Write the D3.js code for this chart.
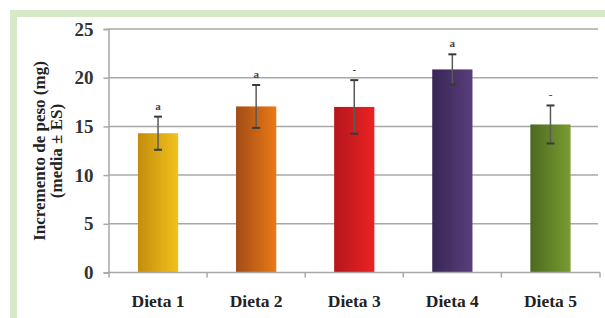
<html lang="es">
<head>
<meta charset="UTF-8">
<script src="https://d3js.org/d3.v7.min.js"></script>
<style>
  body { margin: 0; background: #fff; }
  svg text { font-family: "Liberation Serif", "Times New Roman", "DejaVu Serif", serif !important; font-weight: bold; }
</style>
</head>
<body>
<div id="chart"></div>
<script>
    // data
    const categories = ["Dieta 1", "Dieta 2", "Dieta 3", "Dieta 4", "Dieta 5"];
    const means = [14.3, 17.05, 17.0, 20.85, 15.2];
    const errors = [1.7, 2.2, 2.75, 1.55, 1.95];
    const letters = ["a", "a", "-", "a", "-"];
    const yTicks = [0, 5, 10, 15, 20, 25];
    const colors = [
        ["#c38d0c", "#f2c21c"],
        ["#a24c16", "#ea7a16"],
        ["#b5161c", "#ec2222"],
        ["#372656", "#5a3e7c"],
        ["#4b6a1e", "#7b9b32"]
    ];

    const W = 605, H = 318;
    const svg = d3.select("#chart").append("svg").attr("width", W).attr("height", H);

    // light green frame
    svg.append("rect").attr("x", 13.5).attr("y", 13.5).attr("width", 620).attr("height", 308)
        .attr("fill", "none").attr("stroke", "#d6e8c7").attr("stroke-width", 7);

    const x = d3.scaleBand().domain(categories).range([108.5, 600]).paddingInner(0.59).paddingOuter(0.3);
    const y = d3.scaleLinear().domain([0, 25]).range([272.5, 29]);

    const defs = svg.append("defs");
    colors.forEach((c, i) => {
        const g = defs.append("linearGradient").attr("id", "g" + i).attr("x1", "0%").attr("x2", "100%");
        g.append("stop").attr("offset", "0%").attr("stop-color", c[0]);
        g.append("stop").attr("offset", "100%").attr("stop-color", c[1]);
    });

    // gridlines
    svg.append("g").selectAll("line").data(yTicks.slice(1)).enter().append("line")
        .attr("x1", 108).attr("x2", 598)
        .attr("y1", d => y(d)).attr("y2", d => y(d))
        .attr("stroke", "#a8a8a8").attr("stroke-width", 1.5);

    // bars
    svg.append("g").selectAll("rect").data(categories).enter().append("rect")
        .attr("x", d => x(d)).attr("width", x.bandwidth())
        .attr("y", (d, i) => y(means[i])).attr("height", (d, i) => y(0) - y(means[i]))
        .attr("fill", (d, i) => "url(#g" + i + ")");

    // error bars
    const eb = svg.append("g").selectAll("g").data(categories).enter().append("g")
        .attr("transform", d => `translate(${x(d) + x.bandwidth() / 2},0)`);
    eb.append("line").attr("y1", (d, i) => y(means[i] + errors[i])).attr("y2", (d, i) => y(means[i] - errors[i]))
        .attr("stroke", "#5a5a5a").attr("stroke-width", 1.5);
    [1, -1].forEach(s => {
        eb.append("line").attr("x1", -4).attr("x2", 4)
            .attr("y1", (d, i) => y(means[i] + s * errors[i])).attr("y2", (d, i) => y(means[i] + s * errors[i]))
            .attr("stroke", "#3a3a3a").attr("stroke-width", 2);
    });
    eb.append("text").attr("text-anchor", "middle").attr("font-size", 11).attr("fill", "#444")
        .attr("y", (d, i) => y(means[i] + errors[i]) - 7)
        .text((d, i) => letters[i]);

    // y axis
    const yAxis = svg.append("g").attr("transform", "translate(108.5,0)")
        .call(d3.axisLeft(y).tickValues(yTicks).tickSize(5).tickPadding(10));
    yAxis.attr("font-family", null).attr("font-size", null);
    yAxis.select(".domain").attr("stroke", "#a8a8a8").attr("stroke-width", 1.5);
    yAxis.selectAll(".tick line").attr("stroke", "#a8a8a8").attr("stroke-width", 1.5);
    yAxis.selectAll("text").style("font-size", "19px").attr("fill", "#333");

    // x axis
    const xAxis = svg.append("g").attr("transform", "translate(0,272.5)");
    xAxis.append("line").attr("x1", 108).attr("x2", 600).attr("stroke", "#a8a8a8").attr("stroke-width", 1.5);
    const bounds = categories.map(c => x(c) - x.step() * x.paddingInner() / 2).concat([600]);
    xAxis.selectAll(".tk").data(bounds).enter().append("line").attr("class", "tk")
        .attr("x1", d => d).attr("x2", d => d).attr("y1", 0).attr("y2", 5)
        .attr("stroke", "#a8a8a8").attr("stroke-width", 1.5);
    xAxis.selectAll("text").data(categories).enter().append("text")
        .attr("x", d => x(d) + x.bandwidth() / 2).attr("y", 34)
        .attr("text-anchor", "middle").style("font-size", "17.5px").attr("fill", "#222")
        .text(d => d);

    // y label
    const yl = svg.append("text").attr("transform", "translate(45,151) rotate(-90)")
        .attr("text-anchor", "middle").style("font-size", "17px").attr("fill", "#222");
    yl.append("tspan").attr("x", 0).attr("dy", 0).text("Incremento de peso (mg)");
    yl.append("tspan").attr("x", 0).attr("dy", 17).text("(media ± ES)");
</script>
</body>
</html>
